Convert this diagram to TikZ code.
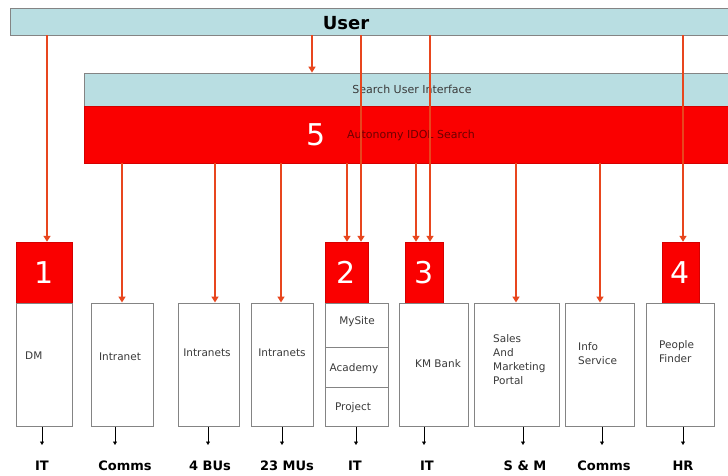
\documentclass[tikz,border=0pt]{standalone}
\usepackage{fontspec}
\setmainfont{DejaVu Sans}
\usetikzlibrary{arrows.meta}
\definecolor{lblue}{HTML}{B9DEE2}
\definecolor{myred}{HTML}{FA0000}
\definecolor{arrc}{HTML}{E8461E}
\definecolor{boxline}{HTML}{848484}
\definecolor{txt}{HTML}{3A3A3A}
\definecolor{dred}{HTML}{6E0000}
\begin{document}
\begin{tikzpicture}[x=1pt,y=-1pt,
  bar/.style={draw=boxline, fill=lblue, line width=0.8pt, inner sep=0pt},
  redbar/.style={fill=myred, draw=myred!85!black, line width=0.5pt, inner sep=0pt},
  redbox/.style={fill=myred, draw=myred!85!black, line width=0.5pt, inner sep=0pt, minimum height=61pt, text=white, font=\fontsize{30}{30}\selectfont},
  wbox/.style={draw=boxline, fill=white, line width=1pt, inner sep=0pt},
  btxt/.style={text=txt, font=\fontsize{10.5}{14}\selectfont, inner sep=0pt},
  ltxt/.style={btxt, align=left, anchor=north west},
  lbl/.style={font=\fontsize{13}{13}\bfseries\selectfont, inner sep=0pt},
  arr/.style={draw=arrc, line width=1.8pt, -{Triangle[length=6pt,width=7pt]}},
  darr/.style={draw=black, line width=0.6pt, -{Triangle[length=3.5pt,width=4pt]}}
]
\useasboundingbox (0,0) rectangle (728,475);
\clip (0,0) rectangle (728,475);
\fill[white] (0,0) rectangle (728,475);

% top bars
\node[bar, minimum width=730pt, minimum height=27pt] (user) at (375,21.5) {};
\node[font=\fontsize{18}{18}\bfseries\selectfont, inner sep=0pt] (usert) at (346,23) {User};
\node[bar, minimum width=656pt, minimum height=33pt, text=txt, font=\fontsize{11}{11}\selectfont] (sui) at (412,89.5) {Search User Interface};
\node[redbar, minimum width=656pt, minimum height=57pt] (idol) at (412,134.5) {};
\node[text=dred, font=\fontsize{11}{11}\selectfont, inner sep=0pt] (idolt) at (411,135) {Autonomy IDOL Search};
\node[text=white, font=\fontsize{30}{30}\selectfont, inner sep=0pt] (five) at (316,135) {5};

% red number boxes
\node[redbox, minimum width=56pt] (b1r) at (44,272.5) {1};
\node[redbox, minimum width=43pt] (b2r) at (346.5,272.5) {2};
\node[redbox, minimum width=38pt] (b3r) at (424,272.5) {3};
\node[redbox, minimum width=37pt] (b4r) at (680.5,272.5) {4};

% white boxes
\node[wbox, minimum width=56pt, minimum height=123pt] (b1) at (44,364.5) {};
\node[wbox, minimum width=62pt, minimum height=123pt] (intra) at (122,364.5) {};
\node[wbox, minimum width=61pt, minimum height=123pt] (bu) at (208.5,364.5) {};
\node[wbox, minimum width=62pt, minimum height=123pt] (mu) at (282,364.5) {};
\node[wbox, minimum width=63pt, minimum height=44pt] (mysite) at (356.5,325) {};
\node[wbox, minimum width=63pt, minimum height=40pt] (acad) at (356.5,367) {};
\node[wbox, minimum width=63pt, minimum height=39pt] (proj) at (356.5,406.5) {};
\node[wbox, minimum width=69pt, minimum height=123pt] (b3) at (433.5,364.5) {};
\node[wbox, minimum width=85pt, minimum height=123pt] (sales) at (516.5,364.5) {};
\node[wbox, minimum width=69pt, minimum height=123pt] (info) at (599.5,364.5) {};
\node[wbox, minimum width=68pt, minimum height=123pt] (pf) at (680,364.5) {};

% box texts
\node[btxt, anchor=west] (tdm) at (25,356) {DM};
\node[btxt] (tintra) at (120,357) {Intranet};
\node[btxt] (tbu) at (207,353) {Intranets};
\node[btxt] (tmu) at (282,353) {Intranets};
\node[btxt] (tmys) at (357,322) {MySite};
\node[btxt] (tacad) at (354,369) {Academy};
\node[btxt] (tproj) at (353,408) {Project};
\node[btxt] (tkm) at (438,364) {KM Bank};
\node[ltxt] (tsales) at (493,334) {Sales\\And\\Marketing\\Portal};
\node[ltxt] (tinfo) at (578,342) {Info\\Service};
\node[ltxt] (tpf) at (659,340) {People\\Finder};

% x positions of connectors
\coordinate (x47) at (47,0);
\coordinate (x312) at (312,0);
\coordinate (x361) at (361,0);
\coordinate (x430) at (430,0);
\coordinate (x683) at (683,0);
\coordinate (x122) at (122,0);
\coordinate (x215) at (215,0);
\coordinate (x281) at (281,0);
\coordinate (x347) at (347,0);
\coordinate (x416) at (416,0);
\coordinate (x516) at (516,0);
\coordinate (x600) at (600,0);

% arrows from User
\draw[arr] (user.south -| x47) -- (b1r.north -| x47);
\draw[arr] (user.south -| x312) -- (sui.north -| x312);
\draw[arr] (user.south -| x361) -- (b2r.north -| x361);
\draw[arr] (user.south -| x430) -- (b3r.north -| x430);
\draw[arr] (user.south -| x683) -- (b4r.north -| x683);

% arrows from search
\draw[arr] (idol.south -| x122) -- (intra.north -| x122);
\draw[arr] (idol.south -| x215) -- (bu.north -| x215);
\draw[arr] (idol.south -| x281) -- (mu.north -| x281);
\draw[arr] (idol.south -| x347) -- (b2r.north -| x347);
\draw[arr] (idol.south -| x416) -- (b3r.north -| x416);
\draw[arr] (idol.south -| x516) -- (sales.north -| x516);
\draw[arr] (idol.south -| x600) -- (info.north -| x600);

% bottom small arrows and owner labels
\coordinate (e1) at (42,445);
\coordinate (e2) at (115,445);
\coordinate (e3) at (208,445);
\coordinate (e4) at (282,445);
\coordinate (e5) at (356,445);
\coordinate (e6) at (424,445);
\coordinate (e7) at (523,445);
\coordinate (e8) at (602,445);
\coordinate (e9) at (683,445);
\draw[darr] (b1.south -| e1) -- (e1);
\draw[darr] (intra.south -| e2) -- (e2);
\draw[darr] (bu.south -| e3) -- (e3);
\draw[darr] (mu.south -| e4) -- (e4);
\draw[darr] (proj.south -| e5) -- (e5);
\draw[darr] (b3.south -| e6) -- (e6);
\draw[darr] (sales.south -| e7) -- (e7);
\draw[darr] (info.south -| e8) -- (e8);
\draw[darr] (pf.south -| e9) -- (e9);

\node[lbl] (l1) at (42,466) {IT};
\node[lbl] (l2) at (125,466) {Comms};
\node[lbl] (l3) at (210,466) {4 BUs};
\node[lbl] (l4) at (287,466) {23 MUs};
\node[lbl] (l5) at (355,466) {IT};
\node[lbl] (l6) at (427,466) {IT};
\node[lbl] (l7) at (525,466) {S \& M};
\node[lbl] (l8) at (604,466) {Comms};
\node[lbl] (l9) at (683,466) {HR};
\end{tikzpicture}
\end{document}
